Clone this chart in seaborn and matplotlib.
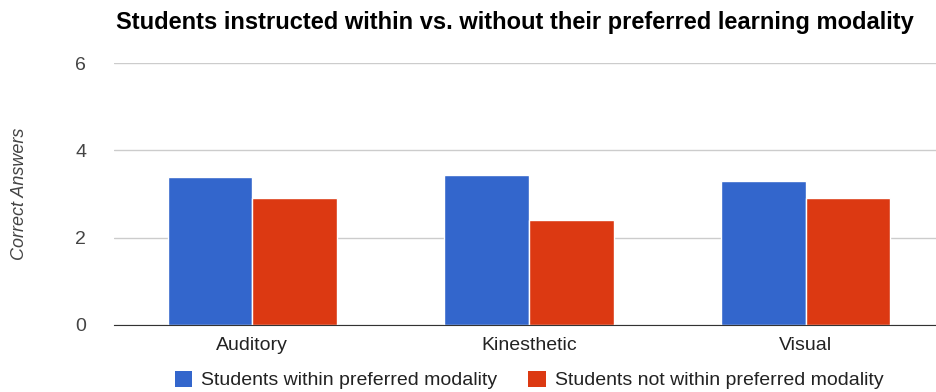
import pandas as pd
import matplotlib.pyplot as plt
import seaborn as sns
from matplotlib.patches import Patch

# data
modalities = ['Auditory', 'Kinesthetic', 'Visual']
within_pref = [3.4, 3.43, 3.3]
not_within_pref = [2.9, 2.4, 2.9]
series_names = ['Students within preferred modality', 'Students not within preferred modality']
colors = ['#3366CC', '#DC3912']

df = pd.DataFrame({
    'Modality': modalities * 2,
    'Group': [series_names[0]] * 3 + [series_names[1]] * 3,
    'Correct': within_pref + not_within_pref,
})

sns.set_style('white')
plt.rcParams['font.family'] = ['Liberation Sans', 'DejaVu Sans']

fig = plt.figure(figsize=(9.36, 3.92), dpi=100)
ax = fig.add_axes([114 / 936, 0.171, 830 / 936, 0.668])

sns.barplot(data=df, x='Modality', y='Correct', hue='Group', palette=colors,
            width=0.612, gap=0.0, ax=ax, legend=False, saturation=1)

ax.set_ylim(0, 6)
ax.set_xlim(-0.5, 2.5)
ax.set_yticks([0, 2, 4, 6])
ax.yaxis.grid(True, color='#cccccc', linewidth=1)
ax.set_axisbelow(True)
for s in ['top', 'right', 'left']:
    ax.spines[s].set_visible(False)
ax.spines['bottom'].set_color('#333333')
ax.tick_params(axis='y', length=0, pad=20, labelsize=14, colors='#444444')
ax.tick_params(axis='x', length=0, pad=9, labelsize=14, colors='#222222')
ax.set_xlabel('')
ax.set_ylabel('')
fig.text(20 / 936, 1 - 194 / 392, 'Correct Answers', rotation=90, ha='center', va='center',
         fontsize=13, style='italic', color='#444444')

fig.text(515 / 936, 1 - 22 / 392, 'Students instructed within vs. without their preferred learning modality',
         ha='center', va='center', fontsize=17, fontweight='bold', color='black')

# legend
handles = [Patch(facecolor=c, edgecolor='none') for c in colors]
fig.legend(handles, series_names, loc='center', bbox_to_anchor=(529 / 936, 1 - 380 / 392), ncol=2,
           frameon=False, fontsize=14, handlelength=0.9, handleheight=0.9, handletextpad=0.45,
           columnspacing=1.6, labelcolor='#222222')

fig.savefig('out.png', dpi=100)
